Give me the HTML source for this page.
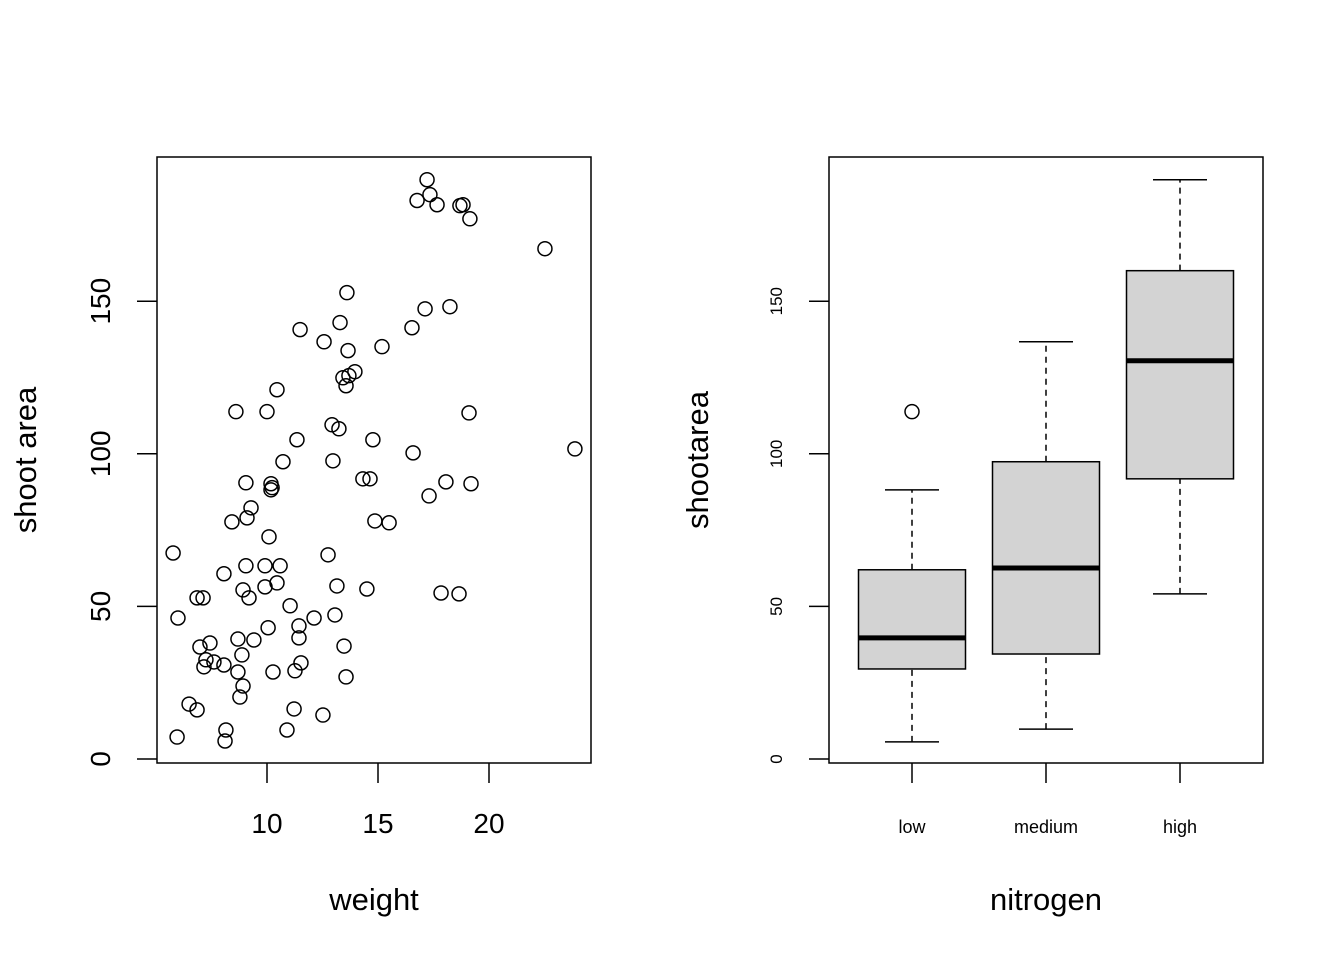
<!DOCTYPE html>
<html><head><meta charset="utf-8"><style>
html,body{margin:0;padding:0;background:#fff;}
svg{display:block;font-family:"Liberation Sans",Arial,sans-serif;}
</style></head><body>
<svg id="s" width="1344" height="960" xmlns="http://www.w3.org/2000/svg"></svg>
<script>
const weights=[5.77,5.99,5.95,6.49,6.85,6.85,7.12,6.98,7.25,7.16,7.43,7.61,8.06,8.06,8.15,8.11,8.42,8.60,8.69,8.69,8.78,8.92,8.87,8.92,9.05,9.05,9.10,9.19,9.28,9.41,9.91,9.91,10.0,10.05,10.09,10.18,10.18,10.23,10.27,10.45,10.45,10.59,10.72,10.90,11.04,11.22,11.26,11.35,11.44,11.44,11.49,11.53,12.12,12.52,12.57,12.75,12.93,12.97,13.06,13.15,13.24,13.29,13.47,13.56,13.42,13.56,13.60,13.65,13.69,13.96,14.32,14.50,14.64,14.77,14.86,15.18,15.50,16.53,16.58,16.76,17.12,17.21,17.30,17.34,17.66,17.84,18.06,18.24,18.65,18.69,18.83,19.10,19.14,19.19,22.52,23.87];
const shootAreas=[67.5,46.2,7.2,18.0,16.1,52.8,52.8,36.7,32.5,30.2,38.0,31.8,30.8,60.7,9.5,5.9,77.7,113.8,39.3,28.5,20.3,23.9,34.1,55.4,63.3,90.5,79.0,52.8,82.3,39.0,63.3,56.4,113.8,43.0,72.8,90.2,88.2,88.9,28.5,57.7,121.0,63.3,97.4,9.5,50.2,16.4,28.9,104.6,43.6,39.7,140.7,31.5,46.2,14.4,136.7,66.9,109.5,97.7,47.2,56.7,108.2,143.0,37.0,26.9,124.9,122.3,152.8,133.8,125.6,126.9,91.8,55.7,91.8,104.6,78.0,135.1,77.4,141.3,100.3,183.0,147.5,189.8,86.2,184.9,181.6,54.4,90.8,148.2,54.1,181.3,181.6,113.4,177.0,90.2,167.2,101.6];
const xTicks=[10,15,20];
const yTicks=[0,50,100,150];
const groups=["low","medium","high"];
const whiskerLo=[5.6,9.8,54.1];
const q1=[29.5,34.4,91.8];
const medians=[39.7,62.6,130.5];
const q3=[62.0,97.4,160.0];
const whiskerHi=[88.2,136.7,189.8];
const outliers=[[113.8],[],[]];

const S=document.getElementById('s');
const NS='http://www.w3.org/2000/svg';
function mk(tag,attrs,name,txt){const e=document.createElementNS(NS,tag);for(const k in attrs)e.setAttribute(k,attrs[k]);


if(txt!==undefined)e.textContent=txt;S.appendChild(e);return e;}
const yS=v=>759-v*3.052;
const xS=v=>267+(v-10)*22.2;
// left panel
mk('rect',{x:157,y:157,width:434,height:606,fill:'none',stroke:'#000','stroke-width':1.5},'scatter-plot-frame');
weights.forEach((w,i)=>mk('circle',{cx:xS(w),cy:yS(shootAreas[i]),r:7,fill:'none',stroke:'#000','stroke-width':1.5},'scatter-point'));
xTicks.forEach(t=>{mk('line',{x1:xS(t),x2:xS(t),y1:763,y2:783,stroke:'#000','stroke-width':1.5},'x-tick');
mk('text',{x:xS(t),y:833,'font-size':28,'text-anchor':'middle'},'x-tick-label',t);});
yTicks.forEach(t=>{mk('line',{x1:137,x2:157,y1:yS(t),y2:yS(t),stroke:'#000','stroke-width':1.5},'y-tick');
mk('text',{x:0,y:0,'font-size':28,'text-anchor':'middle',transform:`translate(110,${yS(t)}) rotate(-90)`},'y-tick-label',t);});
mk('text',{x:374,y:910,'font-size':31,'text-anchor':'middle'},'x-axis-title','weight');
mk('text',{x:0,y:0,'font-size':31,'text-anchor':'middle',transform:'translate(36,460) rotate(-90)'},'y-axis-title','shoot area');
// right panel
const gx=i=>912+i*134;
mk('rect',{x:829,y:157,width:434,height:606,fill:'none',stroke:'#000','stroke-width':1.5},'boxplot-frame');
groups.forEach((g,i)=>{const c=gx(i);
mk('line',{x1:c,x2:c,y1:yS(whiskerLo[i]),y2:yS(q1[i]),stroke:'#000','stroke-width':1.5,'stroke-dasharray':'6,5'},'whisker-lower-'+g);
mk('line',{x1:c,x2:c,y1:yS(q3[i]),y2:yS(whiskerHi[i]),stroke:'#000','stroke-width':1.5,'stroke-dasharray':'6,5'},'whisker-upper-'+g);
mk('line',{x1:c-27,x2:c+27,y1:yS(whiskerLo[i]),y2:yS(whiskerLo[i]),stroke:'#000','stroke-width':1.5},'whisker-cap-'+g);
mk('line',{x1:c-27,x2:c+27,y1:yS(whiskerHi[i]),y2:yS(whiskerHi[i]),stroke:'#000','stroke-width':1.5},'whisker-cap-'+g);
mk('rect',{x:c-53.5,y:yS(q3[i]),width:107,height:yS(q1[i])-yS(q3[i]),fill:'#d3d3d3',stroke:'#000','stroke-width':1.5},'box-'+g);
mk('line',{x1:c-53.5,x2:c+53.5,y1:yS(medians[i]),y2:yS(medians[i]),stroke:'#000','stroke-width':5},'median-'+g);
outliers[i].forEach(o=>mk('circle',{cx:c,cy:yS(o),r:7,fill:'none',stroke:'#000','stroke-width':1.5},'outlier-'+g));
mk('line',{x1:c,x2:c,y1:763,y2:783,stroke:'#000','stroke-width':1.5},'x-tick');
mk('text',{x:c,y:833,'font-size':18,'text-anchor':'middle'},'x-tick-label',g);});
yTicks.forEach(t=>{mk('line',{x1:809,x2:829,y1:yS(t),y2:yS(t),stroke:'#000','stroke-width':1.5},'y-tick');
mk('text',{x:0,y:0,'font-size':17,'text-anchor':'middle',transform:`translate(782,${yS(t)}) rotate(-90)`},'y-tick-label',t);});
mk('text',{x:1046,y:910,'font-size':31,'text-anchor':'middle'},'x-axis-title','nitrogen');
mk('text',{x:0,y:0,'font-size':31,'text-anchor':'middle',transform:'translate(708,460) rotate(-90)'},'y-axis-title','shootarea');
</script>
</body></html>
